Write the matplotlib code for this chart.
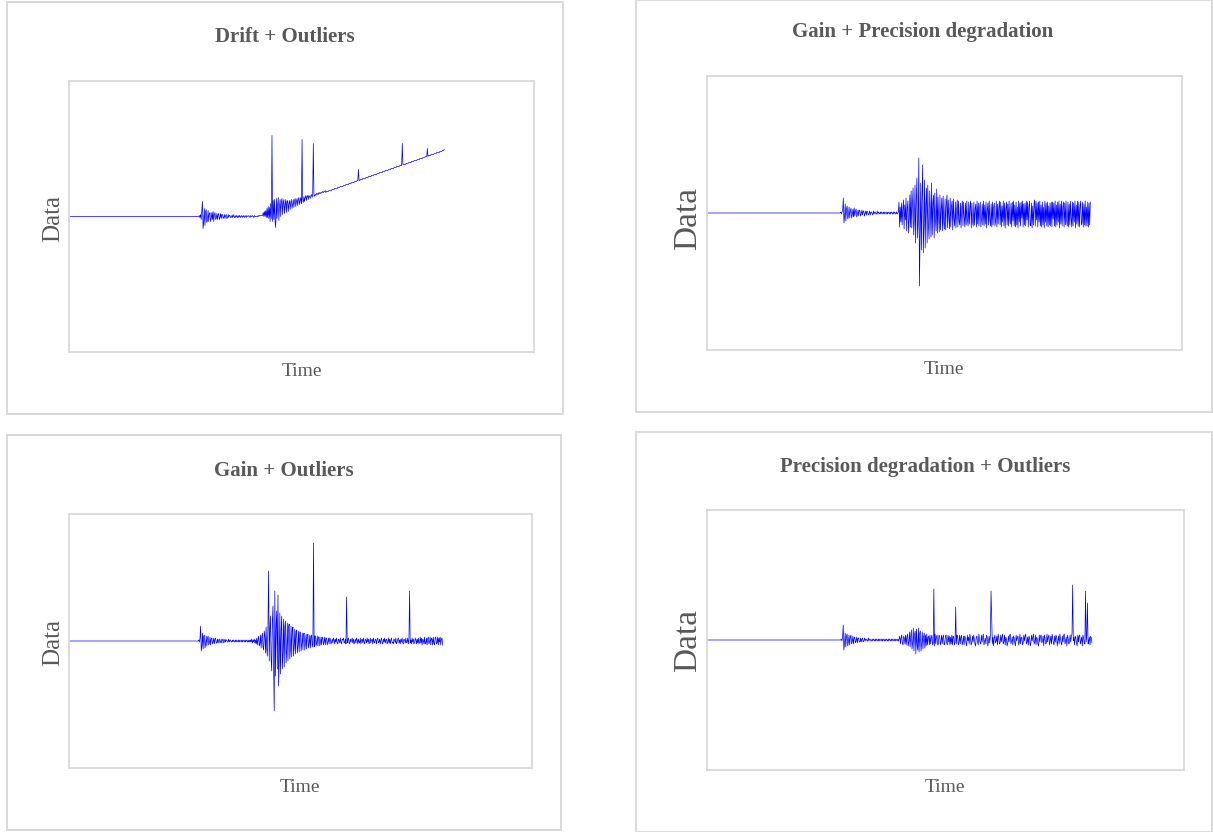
import numpy as np
import matplotlib
matplotlib.use("Agg")
import matplotlib.pyplot as plt
from matplotlib.patches import Rectangle

plt.rcParams['font.family'] = ['Liberation Serif', 'DejaVu Serif']

# ---------------- data (pixel-like units) ----------------
titles = ["Drift + Outliers", "Gain + Precision degradation",
          "Gain + Outliers", "Precision degradation + Outliers"]
x_label = "Time"
y_label = "Data"

drift_outliers = [
    0, 0, 0, 0, 0, 0, 0, 0, 0, 0, 0, 0, 0, 0, 0, 0, 0, 0, 0, 0,
    0, 0, 0, 0, 0, 0, 0, 0, 0, 0, 0, 0, 0, 0, 0, 0, 0, 0, 0, 0,
    0, 0, 0, 0, 0, 0, 0, 0, 0, 0, 0, 0, 0, 0, 0, 0, 0, 0, 0, 0,
    0, 0, 0, 0, 0, 0, 0, 0, 0, 0, 0, 0, 0, 0, 0, 0, 0, 0, 0, 0,
    0, 0, 0, 0, 0, 0, 0, 0, 0, 0, 0, 0, 0, 0, 0, 0, 0, 0, 0, 0,
    0, 0, 0, 0, 0, 0, 0, 0, 0, 0, 0, 0, 0, 0, 0, 0, 0, 0, 0, 0,
    0, 0, 0, 0, 0, 0, 0, 0, 0, 0, 0, 0, 0, 0, 0, 0, 0, 0, 0, 0,
    0, 0, 0, 0, 0, 0, 0, 0, 0, 0, 0, 0, 0, 0, 0, 0, 0, 0, 0, 0,
    0, 0, 0, 0, 0, 0, 0, 0, 0, 0, 0, 0, 0, 0, 0, 0, 0, 0, 0, 0,
    0, 0, 0, 0, 0, 0, 0, 0, 0, 0, 0, 0, 0, 0, 0, 0, 0, 0, 0, 0,
    0, 0, 0, 0, 0, 0, 0, 0,
    1, -1, 2, -3, 6, 15, -12, -6, 8, -9, 5, 7, -6, -4, 6, -5, 3, 4, -5, -2,
    4, -3, 5, -5, 2, 4, -3, -2, 3, -3, 2, 3, -3, -1, 3, -2, 2, 2, -2, -1,
    2, -2, 1, 2, -2, -1, 2, -1, 1, 1, -1, -1, 1, -1, 2, 0, -1, 1, -1, 1,
    0, -1, 1, -1, 1, 0, -1, 1, 0, -1, 1, 0, -1, 1, 0, -1, 1, 0, 0, 1,
    0, -1, 1, 0, 0, 1, 0, -1, 1, 0, 0, 0, 0, 0, 1, 0, 1, 1, 1, 1, 1, 1,
    4, 0, 5, 0, 6, -1, 8, -1, 10, -2, 9, -5, 13, -2, 81, -5, 16, -3, 17, -6,
    -11, 18, -2, 12, 19, -4, 10, 17, 0, 15, 18, 2, 14, 17, 3, 12, 17, 4, 15, 16,
    5, 13, 16, 7, 14, 17, 8, 12, 17, 9, 16, 18, 10, 15, 18, 11, 17, 19, 12, 16,
    19, 13, 77, 17, 14, 20, 15, 19, 21, 16, 20, 21, 17, 21, 20, 18, 21, 22, 19, 22,
    73, 20, 21, 22, 21, 23, 22, 23, 22, 24, 23, 24, 23, 24, 24, 25, 24, 25, 25, 26,
    24, 25, 25, 25, 25, 26, 26, 26, 26, 26, 27, 27, 27, 27, 28, 28, 28, 28, 28, 29,
    29, 29, 29, 30, 30, 30, 30, 30, 31, 31, 31, 31, 32, 32, 32, 32, 32, 33, 33, 33,
    33, 34, 34, 34, 34, 34, 35, 35, 35, 35, 36, 36, 47, 36, 36, 37, 37, 37, 37, 38,
    38, 38, 38, 38, 39, 39, 39, 39, 40, 40, 40, 40, 40, 41, 41, 41, 41, 42, 42, 42,
    42, 42, 43, 43, 43, 43, 44, 44, 44, 44, 44, 45, 45, 45, 45, 46, 46, 46, 46, 46,
    47, 47, 47, 47, 48, 48, 48, 48, 48, 49, 49, 49, 49, 50, 50, 50, 50, 50, 51, 51,
    51, 51, 73, 52, 52, 52, 52, 52, 53, 53, 53, 53, 54, 54, 54, 54, 54, 55, 55, 55,
    55, 56, 56, 56, 56, 56, 57, 57, 57, 57, 58, 58, 58, 58, 58, 59, 59, 59, 59, 60,
    60, 60, 68, 60, 61, 61, 61, 61, 62, 62, 62, 62, 62, 63, 63, 63, 63, 64, 64, 64,
    64, 64, 65, 65, 65, 65, 66, 66, 66, 67,
]

gain_precision = [
    0, 0, 0, 0, 0, 0, 0, 0, 0, 0, 0, 0, 0, 0, 0, 0, 0, 0, 0, 0,
    0, 0, 0, 0, 0, 0, 0, 0, 0, 0, 0, 0, 0, 0, 0, 0, 0, 0, 0, 0,
    0, 0, 0, 0, 0, 0, 0, 0, 0, 0, 0, 0, 0, 0, 0, 0, 0, 0, 0, 0,
    0, 0, 0, 0, 0, 0, 0, 0, 0, 0, 0, 0, 0, 0, 0, 0, 0, 0, 0, 0,
    0, 0, 0, 0, 0, 0, 0, 0, 0, 0, 0, 0, 0, 0, 0, 0, 0, 0, 0, 0,
    0, 0, 0, 0, 0, 0, 0, 0, 0, 0, 0, 0, 0, 0, 0, 0, 0, 0, 0, 0,
    0, 0, 0, 0, 0, 0, 0, 0, 0, 0, 0, 0, 0, 0, 0, 0, 0, 0, 0, 0,
    0, 0, 0, 0, 0, 0, 0, 0, 0, 0, 0, 0, 0, 0, 0, 0, 0, 0, 0, 0,
    0, 0, 0, 0, 0, 0, 0, 0, 0, 0, 0, 0, 0, 0, 0, 0, 0, 0, 0, 0,
    0, 0, 0, 0, 0, 0, 0, 0, 0, 0, 0, 0, 0, 0, 0, 0, 0, 0, 0, 0,
    0, 0, 0, 0, 0, 0, 0, 0,
    0, 1, -1, 1, 3, 15, -10, -4, 9, -8, 4, 7, -6, -3, 6, -5, 2, 5, -5, -2,
    4, -4, 5, -3, 2, 4, -4, -1, 3, -3, 3, 2, -3, -1, 3, -2, 2, 2, -3, -1,
    2, -2, 2, 1, -2, -1, 2, -2, 1, 1, -1, -2, 2, -1, 1, 1, -1, -1, 2, -1,
    1, 0, -1, 1, -1, 1, 0, -1, 1, -1, 1, 0, -1, 1, -1, 1, 0, -1, 1, -1,
    1, 0, -1, 1, -1, 1, 0, -1, 1, -1, 0, 1,
    11, -14, 6, -9, 10, -12, 4, 13, -16, 8, -7, 15, -18, 5, 12, -20, -6, 18, -14, 22,
    -15, 9, 25, -22, -8, 28, -30, 12, 35, -25, -10, 55, -73, -20, 30, -37, 15, 48, -40, -12,
    33, -35, 8, 25, -30, 28, -12, -26, 22, 6, -24, 30, -22, 10, 18, -25, 20, -8, -18, 24,
    -20, 16, -6, -19, 18, -17, 4, 15, -18, 17, -10, -16, 14, -17, 9, 18, -15, 13, -5, -16,
    15, -14, 7, 12, -17, 14, -6, -13, 11, -15, 3, 13, -14, 12, -8, -12, 10, -15, 5, 12,
    -13, 11, -4, -14, 10, -12, 12, -7, -13, 11, -11, 6, 12, -15, 10, -9, -13, 11, -12, 4,
    9, -14, 12, -11, 10, -13, 5, 11, -14, -6, 9, -12, 12, -13, 8, -11, 11, -15, 3, 10,
    -12, 12, -7, -13, 9, -14, 11, -12, 6, 10, -13, -8, 12, -14, 9, -11, 5, 12, -12, 11,
    -14, 7, -9, 12, -13, 10, -15, 4, 11, -12, 9, -13, 12, -6, -11, 10, -14, 11, -8, 12,
    -13, 8, -14, 11, -12, 6, -15, 12, -9, 10, -13, 11, -5, 12, -14, 9, -12, 10, -13, 12,
    -7, 11, -14, 6, 12, -12, -13, 10, -15, 7, -12, 9, 13, -13, 12, -7, 10, -14, 11, -9,
    12, -13, 8, -14, 11, -12, 6, -15, 12, -9, 10, -13, 11, -14, 7, -12, 10, -13, 11, -14,
    11, -6, 10, -13, 12, -14, 8, -12, 11, -9, 12, -15, 9, -11, 12, -13, 6, 11, -14, 10,
    -12, 12, -8, -13, 11, -14, 9, -12, 12, -6, -14, 11, -13, 10, -9, 12, -15, 8, -11, 12,
    -13, 11, -14, 7, 12, -12, -10, 11, -14, 9, -12, 12, -13, 6, -13, 11, -14, 10, -12, 11,
]

gain_outliers = [
    0, 0, 0, 0, 0, 0, 0, 0, 0, 0, 0, 0, 0, 0, 0, 0, 0, 0, 0, 0,
    0, 0, 0, 0, 0, 0, 0, 0, 0, 0, 0, 0, 0, 0, 0, 0, 0, 0, 0, 0,
    0, 0, 0, 0, 0, 0, 0, 0, 0, 0, 0, 0, 0, 0, 0, 0, 0, 0, 0, 0,
    0, 0, 0, 0, 0, 0, 0, 0, 0, 0, 0, 0, 0, 0, 0, 0, 0, 0, 0, 0,
    0, 0, 0, 0, 0, 0, 0, 0, 0, 0, 0, 0, 0, 0, 0, 0, 0, 0, 0, 0,
    0, 0, 0, 0, 0, 0, 0, 0, 0, 0, 0, 0, 0, 0, 0, 0, 0, 0, 0, 0,
    0, 0, 0, 0, 0, 0, 0, 0, 0, 0, 0, 0, 0, 0, 0, 0, 0, 0, 0, 0,
    0, 0, 0, 0, 0, 0, 0, 0, 0, 0, 0, 0, 0, 0, 0, 0, 0, 0, 0, 0,
    0, 0, 0, 0, 0, 0, 0, 0, 0, 0, 0, 0, 0, 0, 0, 0, 0, 0, 0, 0,
    0, 0, 0, 0, 0, 0, 0, 0, 0, 0, 0, 0, 0, 0, 0, 0, 0, 0, 0, 0,
    0, 0, 0, 0, 0, 0, 0, 0,
    1, -1, 3, 15, -10, -5, 8, -8, 5, 6, -7, -3, 5, -5, 3, 5, -4, -2, 4, -4,
    2, 3, -3, -1, 3, -3, 2, 3, -2, -2, 2, -2, 1, 2, -2, -1, 2, -2, 1, 2,
    -2, -1, 2, -1, 1, 1, -1, -1, 2, -1, 1, 1, -1, -1, 1, -1, 1, 0, -1, 1,
    -1, 1, 0, -1, 1, -1, 1, 0, -1, 1, -1, 1, 0, -1, 1, -1, 1, 0, -1, 1,
    -1, 1, -1, 1, -1, 2, -2, 1, -1, 2, -2, 1,
    -3, 3, -4, 2, 5, -5, -3, 6, -7, 4, 8, -6, -9, 10, 5, -12, 14, -8, -15, 18,
    70, -20, 12, 25, -18, -30, 20, 35, -25, -70, 50, -35, 15, 30, -28, 46, -45, -20, 28, -33,
    10, 25, -28, -12, 22, -26, 15, 20, -22, -10, 18, -20, 14, 17, -18, -8, 15, -16, 12, 14,
    -15, -6, 12, -13, 10, 11, -12, -5, 10, -11, 9, 9, -10, -4, 8, -9, 7, 8, -9, -3,
    7, -8, 6, 7, -7, -3, 6, -7, 5, 6, -6, -2, 98, -6, 5, 5, -5, -2, 5, -5,
    4, 4, -5, -2, 4, -4, 4, 3, -4, -1, 4, -4, 3, 3, -4, -1, 3, -3, 3, 2,
    -3, -1, 2, -2, 3, 1, -3, 2, -1, 3, -2, -3, 2, 1, -2, 3, -1, -3, 2, 1,
    3, -2, -1, 2, -3, 44, -2, 1, 3, -2, -3, 2, -1, 1, 3, -2, 2, -3, -1, 2,
    -2, 3, 1, -3, 2, -1, -2, 3, -3, 1, 2, -2, 3, -1, -3, 2, 1, -2, 3, -1,
    2, -3, -1, 3, -2, 1, 2, -3, 3, -1, -2, 2, 1, -3, 2, 3, -2, -1, 2, -3,
    1, 3, -2, -3, 2, -1, 3, -2, 1, 2, -3, -1, 3, -2, 2, -3, 1, 3, -2, -1,
    -3, 2, 1, -2, 3, -3, -1, 2, 3, -2, 1, -3, 2, -1, 3, -2, -3, 2, 1, -2,
    3, -2, -1, 3, -3, 2, 50, -2, 1, -3, 3, -1, 2, -3, -2, 3, 1, -3, 2, -2,
    3, -3, -1, 4, -2, 3, -4, 2, 1, -3, 4, -3, -2, 3, -4, 2, 4, -3, -1, 4,
    -4, 3, 2, -4, 4, -2, -4, 3, 4, -3, -2, 4, -4, 3, -1, 4, -4, 2, 3, -4,
]

precision_outliers = [
    0, 0, 0, 0, 0, 0, 0, 0, 0, 0, 0, 0, 0, 0, 0, 0, 0, 0, 0, 0,
    0, 0, 0, 0, 0, 0, 0, 0, 0, 0, 0, 0, 0, 0, 0, 0, 0, 0, 0, 0,
    0, 0, 0, 0, 0, 0, 0, 0, 0, 0, 0, 0, 0, 0, 0, 0, 0, 0, 0, 0,
    0, 0, 0, 0, 0, 0, 0, 0, 0, 0, 0, 0, 0, 0, 0, 0, 0, 0, 0, 0,
    0, 0, 0, 0, 0, 0, 0, 0, 0, 0, 0, 0, 0, 0, 0, 0, 0, 0, 0, 0,
    0, 0, 0, 0, 0, 0, 0, 0, 0, 0, 0, 0, 0, 0, 0, 0, 0, 0, 0, 0,
    0, 0, 0, 0, 0, 0, 0, 0, 0, 0, 0, 0, 0, 0, 0, 0, 0, 0, 0, 0,
    0, 0, 0, 0, 0, 0, 0, 0, 0, 0, 0, 0, 0, 0, 0, 0, 0, 0, 0, 0,
    0, 0, 0, 0, 0, 0, 0, 0, 0, 0, 0, 0, 0, 0, 0, 0, 0, 0, 0, 0,
    0, 0, 0, 0, 0, 0, 0, 0, 0, 0, 0, 0, 0, 0, 0, 0, 0, 0, 0, 0,
    0, 0, 0, 0, 0, 0, 0, 0,
    0, 1, -1, 3, 15, -10, -4, 7, -7, 4, 6, -6, -2, 5, -5, 3, 5, -4, -2, 4,
    -4, 2, 3, -3, -1, 3, -3, 2, 2, -2, -2, 2, -2, 1, 2, -2, -1, 2, -1, 1,
    1, -1, -1, 2, -1, 1, 1, -1, -1, 1, -1, 1, 0, -1, 1, -1, 1, 0, -1, 1,
    -1, 1, 0, -1, 1, -1, 1, 0, -1, 1, -1, 1, 0, -1, 1, -1, 1, 0, -1, 1,
    -1, 1, 0, -1, 1, -1, 1, 0, -1, 1, -1, 1,
    4, -4, 2, 5, -3, -5, 4, 2, -4, 5, -5, 3, 6, -6, -2, 8, -7, 4, 10, -9,
    -3, 12, -11, 6, 9, -14, 11, -5, -10, 12, -12, 7, 9, -11, -4, 8, -9, 3, 7, -8,
    5, -6, 6, -5, 3, 4, -5, 5, -4, 2, 5, -5, -3, 51, -6, 6, -4, 3, 5, -5,
    -4, 5, 4, -5, -2, 5, -4, 3, 5, -5, -4, 4, 5, -3, -5, 5, -2, 4, -5, 3,
    -4, 5, -5, 4, 3, -5, -2, 33, -4, 5, 4, -5, -3, 5, -4, 3, 5, -5, -2, 4,
    -5, 4, 2, -3, -6, 5, -1, 3, -4, 6, 2, -5, -3, 4, -2, 5, 1, -4, -6, 3,
    4, -2, -5, 6, 1, -3, -4, 5, -2, 3, 6, -5, -1, 2, -4, 5, 3, -6, -2, 4,
    -3, 5, 49, 24, -4, 3, -6, 2, 5, -3, -1, 4, -5, 6, 2, -4, -3, 5, -2, 3,
    6, -4, -2, 5, -5, 3, 1, -6, -3, 4, -2, 5, 6, -4, -1, 3, -5, 4, 2, -3,
    -6, 5, -1, 3, 4, -5, -2, 6, -4, 2, 3, -5, -3, 5, -1, 4, 6, -4, -2, 3,
    -5, 4, 2, -6, -3, 5, -1, 3, 6, -4, -2, 5, -5, 3, 1, -4, -6, 5, -2, 4,
    5, -3, -1, 4, -6, 5, 2, -4, -3, 6, -2, 3, 5, -5, -1, 4, -4, 6, 2, -3,
    -5, 4, -2, 5, 3, -6, -1, 4, -4, 6, 2, -3, -5, 4, -2, 5, 6, -4, -1, 3,
    -6, 5, 2, -4, -3, 5, -2, 4, 6, 55, -1, 3, -5, 4, 2, -3, -6, 5, -2, 4,
    5, -4, -1, 3, -6, 5, 2, -3, -4, 49, -2, 5, 37, -4, -1, 3, -5, 4, 2, -3,
]

series = [drift_outliers, gain_precision, gain_outliers, precision_outliers]

# ---------------- layout (pixels in the 1213x832 canvas) ----------------
W, H = 1213, 832
panel_boxes = [(7, 2, 563, 414), (636, 0, 1212, 412), (7, 435, 561, 830), (636, 432, 1212, 832)]
axes_boxes = [(69, 81, 534, 352), (707, 76, 1182, 350), (69, 514, 532, 768), (707, 510, 1184, 770)]
title_pos = [(285, 37), (923, 32), (284, 471), (925, 467)]
xlabel_pos = [(302, 371), (944, 369), (300, 787), (945, 788)]
ylabel_pos = [(53, 219), (688, 218), (53, 642), (688, 641)]
ylabel_size = [18, 24, 18, 24]
data_fraction = 0.807

fig = plt.figure(figsize=(W / 100, H / 100), dpi=100)
grey_text = '#595959'
border = '#d9d9d9'

for k in range(4):
    l, t, r, b = panel_boxes[k]
    fig.patches.append(Rectangle((l / W, 1 - b / H), (r - l) / W, (b - t) / H,
                                 transform=fig.transFigure, fill=False,
                                 edgecolor=border, linewidth=1.4))
    al, at, ar, ab = axes_boxes[k]
    ax = fig.add_axes([al / W, 1 - ab / H, (ar - al) / W, (ab - at) / H])
    vals = series[k]
    ax.plot(np.arange(len(vals)), vals, color='#0000ff', linewidth=0.5)
    ax.set_xlim(0, (len(vals) - 1) / data_fraction)
    half = (ab - at) / 2
    ax.set_ylim(-half, half)
    ax.set_xticks([])
    ax.set_yticks([])
    for s in ax.spines.values():
        s.set_color(border)
        s.set_linewidth(1.3)
    tx, ty = title_pos[k]
    fig.text(tx / W, 1 - ty / H, titles[k], ha='center', va='center',
             fontsize=15, fontweight='bold', color=grey_text)
    xx, xy = xlabel_pos[k]
    fig.text(xx / W, 1 - xy / H, x_label, ha='center', va='center',
             fontsize=14, color=grey_text)
    yx, yy = ylabel_pos[k]
    fig.text(yx / W, 1 - yy / H, y_label, ha='center', va='center', rotation=90,
             fontsize=ylabel_size[k], color=grey_text)

fig.savefig('out.png', dpi=100, facecolor='white')
